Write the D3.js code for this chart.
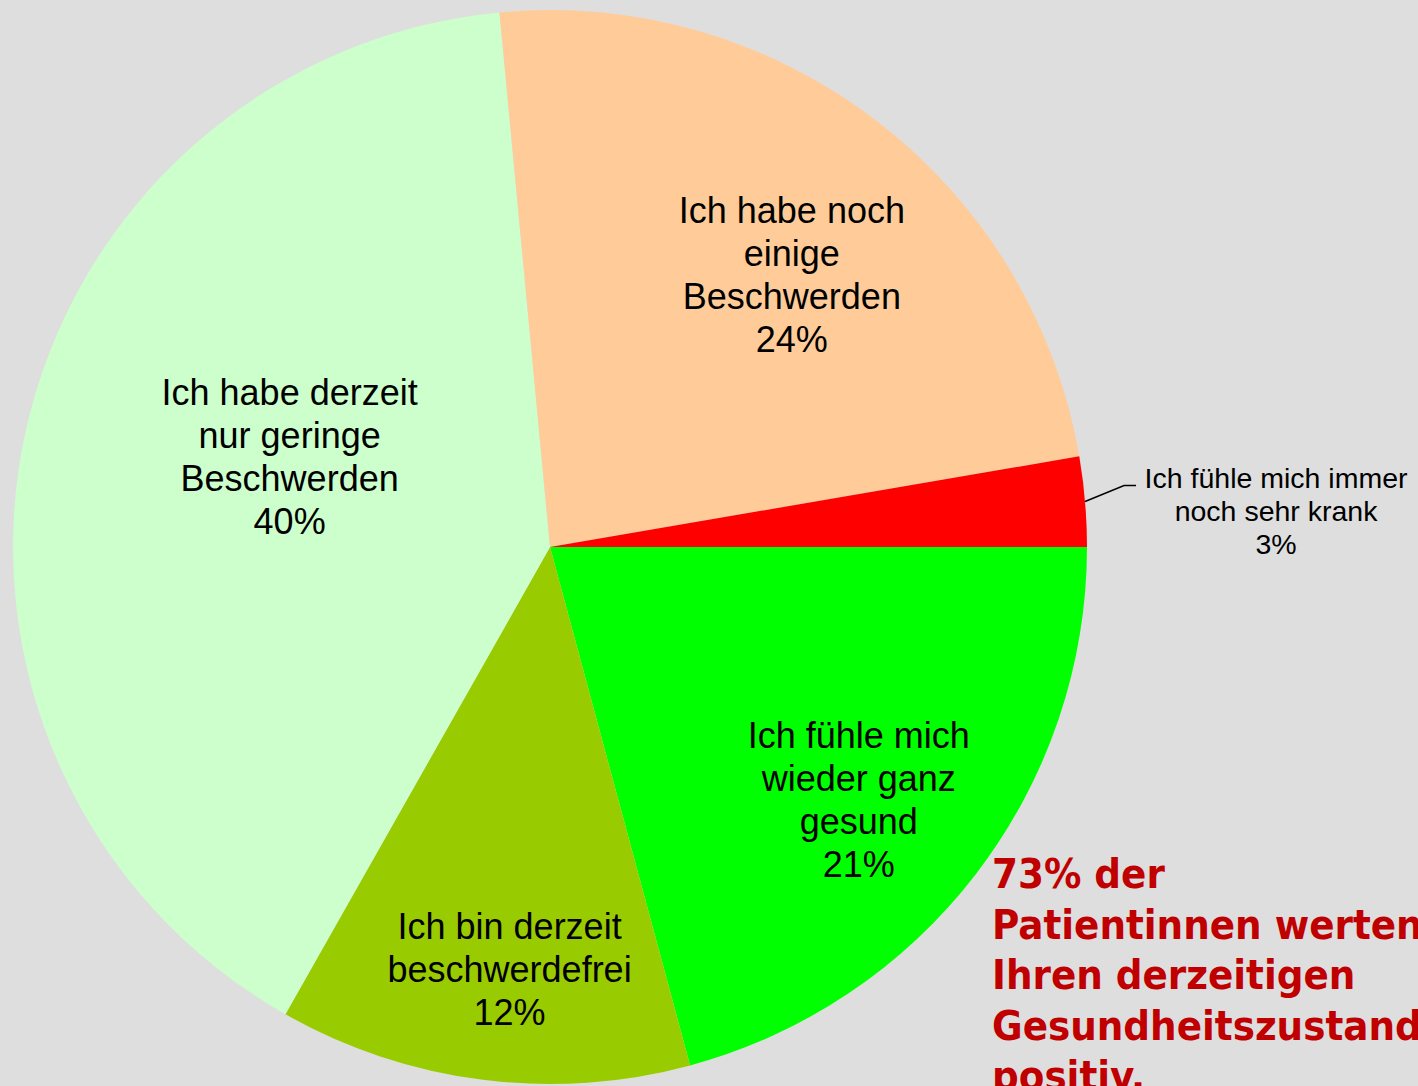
<!DOCTYPE html>
<html>
<head>
<meta charset="utf-8">
<script src="https://cdn.jsdelivr.net/npm/d3@7"></script>
<style>
  html, body { margin: 0; padding: 0; background: #dedede; overflow: hidden; }
</style>
</head>
<body>
<div class="chart"></div>
<script>
// slices in clockwise order, starting at 3 o'clock
const categories = [
  ["Ich fühle mich", "wieder ganz", "gesund"],
  ["Ich bin derzeit", "beschwerdefrei"],
  ["Ich habe derzeit", "nur geringe", "Beschwerden"],
  ["Ich habe noch", "einige", "Beschwerden"],
  ["Ich fühle mich immer", "noch sehr krank"]
];
const values = [20.8, 12.4, 40.3, 23.8, 2.7];
const colors = ["#00ff00", "#99cc00", "#ccffcc", "#ffcc99", "#ff0000"];
const note = ["73% der", "Patientinnen werten", "Ihren derzeitigen", "Gesundheitszustand", "positiv."];

const width = 1418, height = 1086;
const cx = 550, cy = 547, r = 537;

// label placement: [radius fraction, angle nudge in degrees]
const labelLayout = [[0.75, 2.5], [0.8, -1.8], [0.51, 6], [0.67, 4.8], [null, 0]];

const svg = d3.select(".chart")
  .append("svg")
  .attr("width", width)
  .attr("height", height);

const g = svg.append("g").attr("transform", "translate(" + cx + "," + cy + ")");

const pie = d3.pie()
  .sort(null)
  .startAngle(Math.PI / 2)
  .endAngle(Math.PI / 2 + 2 * Math.PI);

const arcs = pie(values);
const arc = d3.arc().innerRadius(0).outerRadius(r);

g.selectAll("path")
  .data(arcs)
  .join("path")
  .attr("d", arc)
  .attr("fill", (d, i) => colors[i]);

const total = d3.sum(values);

// inside labels
arcs.forEach((d, i) => {
  const lay = labelLayout[i];
  if (lay[0] === null) return;
  const mid = (d.startAngle + d.endAngle) / 2 + lay[1] * Math.PI / 180;
  const rr = r * lay[0];
  const x = Math.sin(mid) * rr, y = -Math.cos(mid) * rr;
  const lines = categories[i].concat([Math.round(values[i] / total * 100) + "%"]);
  const lh = 43;
  const t = g.append("text")
    .attr("text-anchor", "middle")
    .attr("font-family", "Liberation Sans, Arial, sans-serif")
    .attr("font-size", 36)
    .attr("fill", "#000");
  lines.forEach((s, k) => {
    t.append("tspan")
      .attr("x", x)
      .attr("y", y + (k - (lines.length - 1) / 2) * lh + 7)
      .text(s);
  });
});

// outside label for the small slice, with leader line
{
  const i = 4, d = arcs[i];
  const mid = (d.startAngle + d.endAngle) / 2;
  const p0 = [Math.sin(mid) * r, -Math.cos(mid) * r];
  const p1 = [p0[0] + 39, p0[1] - 16];
  const p2 = [p1[0] + 12, p1[1]];
  g.append("polyline")
    .attr("points", [p0, p1, p2].map(p => p.join(",")).join(" "))
    .attr("fill", "none")
    .attr("stroke", "#000")
    .attr("stroke-width", 1.5);
  const lines = categories[i].concat([Math.round(values[i] / total * 100) + "%"]);
  const t = g.append("text")
    .attr("text-anchor", "middle")
    .attr("font-family", "Liberation Sans, Arial, sans-serif")
    .attr("font-size", 28.5)
    .attr("fill", "#000");
  lines.forEach((s, k) => {
    t.append("tspan")
      .attr("x", p2[0] + 140)
      .attr("y", p2[1] + 2 + k * 33)
      .text(s);
  });
}

// red note
const nt = svg.append("text")
  .attr("font-family", "DejaVu Sans Condensed, DejaVu Sans, sans-serif")
  .attr("font-weight", "bold")
  .attr("font-size", 41.5)
  .attr("fill", "#c00000");
note.forEach((s, k) => {
  nt.append("tspan")
    .attr("x", 992)
    .attr("y", 888 + k * 50.5)
    .text(s);
});
</script>
</body>
</html>
